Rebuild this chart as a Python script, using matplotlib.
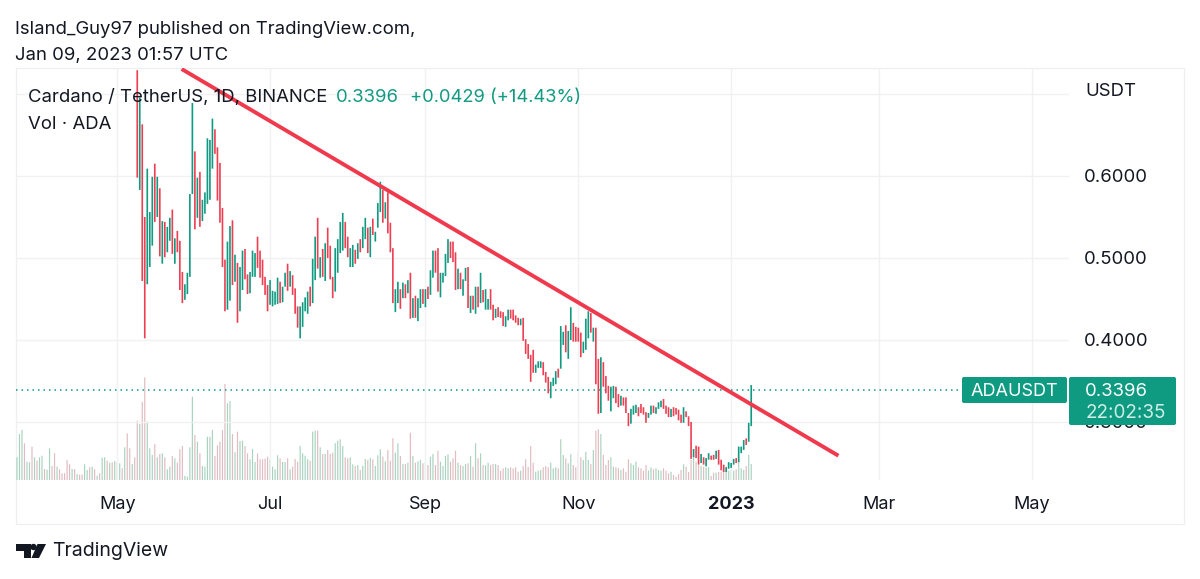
import numpy as np
import matplotlib
matplotlib.use("Agg")
import matplotlib.pyplot as plt
import matplotlib.dates as mdates
from matplotlib.patches import Rectangle, FancyBboxPatch, Polygon, Circle

plt.rcParams['font.family'] = ['Inter', 'DejaVu Sans']

W, H = 1200, 579

first_date = np.datetime64('2022-05-09')
volume_start = np.datetime64('2022-03-22')

highs = [
 .729,.696,.663,.550,.609,.556,.599,.615,.599,.585,
 .545,.544,.538,.549,.559,.524,.533,.521,.483,.468,
 .482,.578,.689,.630,.598,.605,.571,.580,.646,.644,
 .670,.657,.635,.616,.561,.498,.520,.539,.546,.504,
 .494,.489,
 .509,.511,.480,.483,.509,.506,.526,.509,
 .498,.477,.467,.473,.460,.459,.476,.471,.465,.482,
 .493,.484,.479,.463,.441,.441,.446,.452,.459,.465,
 .499,.526,.549,.501,.511,.518,.537,.515,.477,.512,
 .523,.544,.555,.544,.526,.512,.516,.510,.518,.523,
 .538,.549,.537,.538,.548,.532,.567,.593,.583,.568,
 .580,.543,.512,.462,.471,
 .462,.470,.468,.473,.482,
 .451,.454,.451,.462,.462,.462,.465,.485,.509,.509,
 .512,.482,.482,.505,.523,.520,.520,.507,.487,.482,
 .474,.488,.489,.454,.454,.465,.465,.482,.461,.462,
 .450,.462,.443,.438,.440,.435,.434,.429,.437,.437,
 .437,.430,.427,.426,.427,.401,.395,.382,.388,.370,
 .374,.374,.373,.361,.355,.349,.354,.362,.365,.417,
 .410,.418,.411,.440,.421,.416,.415,.409,.398,.426,
 .435,.433,.415,.415,.377,.379,.373,.356,.344,.343,
 .344,.343,.334,.332,.330,.330,.311,.316,.320,.321,
 .318,.322,.318,.312,.311,.320,.320,.318,.324,.326,
 .328,.320,.318,.316,.318,.317,.315,.309,.318,.313,
 .307,.300,.267,.271,.270,.261,.257,.256,.262,.259,
 .260,.265,.266,.254,.248,.245,.251,.250,.255,.256,
 .270,.270,.278,.280,.299,.345,
]
lows = [
 .598,.583,.472,.402,.468,.489,.515,.544,.550,.502,
 .493,.501,.507,.521,.505,.493,.507,.461,.445,.449,
 .456,.477,.578,.535,.549,.538,.545,.554,.566,.571,
 .609,.627,.570,.543,.489,.435,.437,.448,.467,.471,
 .421,.435,
 .461,.474,.456,.457,.477,.477,.488,.476,
 .467,.455,.435,.443,.441,.443,.444,.445,.446,.465,
 .460,.465,.455,.432,.415,.402,.416,.435,.432,.441,
 .445,.473,.487,.476,.477,.472,.500,.474,.451,.459,
 .482,.506,.509,.512,.501,.489,.489,.493,.499,.507,
 .512,.523,.506,.501,.528,.520,.537,.556,.543,.548,
 .530,.507,.445,.434,.445,
 .438,.451,.451,.457,.426,
 .427,.427,.423,.439,.444,.440,.450,.455,.476,.482,
 .459,.452,.470,.478,.494,.500,.495,.461,.462,.462,
 .454,.472,.439,.433,.437,.432,.440,.445,.446,.437,
 .437,.437,.424,.427,.428,.427,.417,.416,.424,.426,
 .424,.421,.418,.418,.399,.383,.377,.349,.360,.360,
 .366,.366,.357,.348,.335,.329,.344,.346,.354,.365,
 .394,.385,.377,.400,.398,.398,.398,.379,.384,.388,
 .402,.409,.398,.346,.310,.311,.343,.335,.326,.313,
 .329,.323,.318,.320,.320,.311,.295,.298,.309,.311,
 .307,.311,.309,.299,.305,.309,.311,.310,.316,.318,
 .316,.310,.306,.306,.307,.309,.302,.299,.299,.306,
 .295,.255,.257,.256,.248,.250,.248,.246,.254,.254,
 .254,.255,.248,.241,.239,.239,.243,.244,.248,.250,
 .251,.262,.266,.272,.276,.295,
]
candle_dirs = (
 "RGRRGGGRGR" "GRGGRGRRRG" "GGGRGRGGGG" "GRRRRRGGRG" "RG"
 "GRRGGGRR" "RRRGGGGRGG" "RGRRRGGGGR" "GGRGRGRRRG"
 "GGGRRGGRGR" "GGRGRGGGRG" "RRRGG"
 "RGRGR" "GRGGRGRGGR" "RGGGGRRRGR" "GGRGRGRGRG"
 "GRRGRRRGGR" "RRRGRRRRRG" "GGRRRGGGRG" "GRGGRRRRGG"
 "GRGRRGRRRG" "GRRGRRRGGG" "RRRRGGRGGG" "RRRGRRRRGR"
 "RRGRRGRGGR" "RGRRRGGGGR" "GGGRGG"
)
# volume bars that lie before the first visible candle (price above the pane)
pre_volume = [
 22.7,46,50,36.7,18.3,17.7,33.3,22.7,19.3,22.7,24.3,11,10.3,31.7,14,26.7,13.3,10.7,6.7,6.7,
 20,15.7,11,11,6,5.3,5.3,15.7,10,12.7,13.3,10.7,4.3,6.7,22.3,22.7,19.3,17.3,17.7,19,
 18,16.7,11.7,32.7,46.7,31.7,16,22.7,
]
pre_dirs = "GGGRGGRGRGGRGGRRGRRRRRGRGRRGGRGRGRGGRGRGRGRGRRGR"[:48]
volume = [
 59.3,56,78.3,102.7,58.3,31.7,25,36,22.7,26,26.7,22.7,10.7,13.3,24,21.7,17.3,30.7,34,4,
 3.3,32.7,83.3,45,38.3,26.7,14,13.3,43.3,43.3,50,24,34.7,38.3,50,96,76.7,79,46,27.7,
 48.3,39,39.3,34,26.7,20.7,31,18,26.7,20.7,20.7,21.3,23.3,20.7,13.3,10.7,24.7,21.7,18,18,
 21.7,10.7,13.3,21,18.3,34,26.7,24.3,20.7,19.3,48.3,49.3,49.3,32.7,26,26,30,26,27.3,36.7,
 39.3,40.7,34,22.7,21.7,22.7,15.7,14,15,10,14.3,21,20,22,20.7,14,24.7,30.7,23.3,18.7,
 30,19.3,41.7,27.3,36.7,
 24,16,16,17.3,47.3,24,17.3,18.7,20,16.7,18,15,23.3,26,15,29.3,18.3,14,24,25.7,
 18.3,21.7,29.3,17.3,15,14,16,16.7,24,13.3,36.7,21.7,26.7,15,14.7,17.3,15,16,16,15,
 9.3,11.7,12.7,11.7,12.7,11.7,12.7,8.3,9.3,14,20.7,13.3,34,17.3,8.3,9.3,10,12.7,14,12.7,
 17.3,11.7,12.7,11.7,40.7,25,21.7,16.7,25.7,15,12.7,28.3,22.7,20,28.3,20,16,30,49.3,50.7,
 46,25,15,20,22.7,13.3,12.7,11.7,10,11.7,8.3,20.7,16.7,15,18.3,12.7,11.7,9.3,15,9.3,
 12.7,10.7,11.7,10,9.3,11.7,9.3,6.7,8.3,5,3.3,6,10,15.7,13.3,8,20,22.7,18.3,15,
 14,13.3,12.7,12.7,4,7.3,7.3,8,8.3,15,8.3,9.3,10,9.3,10.7,20.7,11.7,10,14,25,16,
]
trend_dates = ['2022-05-26T17', '2023-02-12T19']
trend_prices = [0.7305, 0.2589]
last_price = 0.3396
price_ticks = [0.3, 0.4, 0.5, 0.6, 0.7]
price_labels = ['0.3000', '0.4000', '0.5000', '0.6000', '']
month_dates = ['2022-05-01', '2022-07-01', '2022-09-01', '2022-11-01', '2023-01-01', '2023-03-01', '2023-05-01']
month_labels = ['May', 'Jul', 'Sep', 'Nov', '2023', 'Mar', 'May']

GREEN, RED = '#119a82', '#ee3f52'
VG, VR = '#a9d3bf', '#e0bcc1'
INK = '#131722'
FS = 13.35

assert len(highs) == len(lows) == len(candle_dirs) == 246, (len(highs), len(lows), len(candle_dirs))
assert len(pre_volume) == len(pre_dirs) == 48, (len(pre_volume), len(pre_dirs))
assert len(volume) == 246, len(volume)

def fx(x): return x / W
def fy(y): return 1 - (y + 1.5) / H

fig = plt.figure(figsize=(12, 5.79), dpi=100, facecolor='white')
L, R, T, B = 16, 1069, 68, 480
rect = [L / W, 1 - B / H, (R - L) / W, (B - T) / H]
ax_v = fig.add_axes(rect, zorder=1)
ax = fig.add_axes(rect, zorder=2)
ax.patch.set_visible(False)

dates = mdates.date2num(first_date + np.arange(len(highs)))
vdates = mdates.date2num(volume_start + np.arange(len(pre_volume)))
px_per_day = 2.506
xmin = mdates.date2num(np.datetime64('2022-05-01')) + (L - 117.2) / px_per_day
xmax = mdates.date2num(np.datetime64('2022-05-01')) + (R - 117.2) / px_per_day

up = np.array([c == 'G' for c in candle_dirs])
candles = ax.vlines(dates, lows, highs, colors=[GREEN if u else RED for u in up], linewidth=1.2,
                    capstyle='butt', zorder=3)
candles.set_snap(False)

v1 = ax_v.vlines(vdates, 0, pre_volume, colors=[VG if c == 'G' else VR for c in pre_dirs], linewidth=0.85)
v2 = ax_v.vlines(dates, 0, volume, colors=[VG if u else VR for u in up], linewidth=0.85)
v1.set_snap(False)
v2.set_snap(False)
ax_v.set_xlim(xmin, xmax)
ax_v.set_ylim(0, B - T)
ax_v.axis('off')

ax.plot(mdates.date2num(np.array(trend_dates, dtype='datetime64[h]')), trend_prices,
        color='#ee3a4c', linewidth=2.8, solid_capstyle='butt', zorder=4)
ax.axhline(last_price, 0, (960 - L) / (R - L), color=GREEN, linewidth=1.1, linestyle=(0, (1, 2.6)), zorder=2)

ax.set_xlim(xmin, xmax)
ax.set_ylim((668 - B) / 820, (668 - T) / 820)
ax.set_xticks(mdates.date2num(np.array(month_dates, dtype='datetime64[D]')))
ax.set_xticklabels(month_labels, fontsize=13, color=INK)
ax.get_xticklabels()[4].set_fontweight('bold')
ax.yaxis.tick_right()
ax.set_yticks(price_ticks)
ax.set_yticklabels(price_labels, fontsize=FS, color=INK)
ax.tick_params(axis='x', length=0, pad=11.5)
ax.tick_params(axis='y', length=0, pad=11)
ax.grid(True, color='#f0f1f3', linewidth=1.0, zorder=0)
ax.set_axisbelow(True)
for s in ax.spines.values():
    s.set_visible(False)

# outer frame
fig.add_artist(Rectangle((16 / W, 1 - 524 / H), (1184 - 16) / W, (524 - 68) / H, transform=fig.transFigure,
                         fill=False, edgecolor='#eeeff1', linewidth=0.9, zorder=0.5))

# price labels
def box(x0, y0, x1, y1):
    fig.add_artist(FancyBboxPatch((x0, H - y1), x1 - x0, y1 - y0, boxstyle='round,pad=0,rounding_size=2',
                                  transform=None, facecolor='#0f9a82', edgecolor='none', zorder=5))
box(962, 377, 1067, 403)
box(1069, 377, 1176, 425)
fig.text(fx(1014.5), fy(390), 'ADAUSDT', fontsize=13, color='white', ha='center', va='center', zorder=6)
fig.text(fx(1085), fy(390), '0.3396', fontsize=FS, color='white', ha='left', va='center', zorder=6)
fig.text(fx(1086), fy(412), '22:02:35', fontsize=13.6, color='#cdeee6', ha='left', va='center', zorder=6)
fig.text(fx(1085), fy(90), 'USDT', fontsize=FS, color=INK, ha='left', va='center', zorder=6)

# header
fig.text(fx(15), fy(28), 'Island_Guy97 published on TradingView.com,', fontsize=13.35, color=INK, ha='left', va='center')
fig.text(fx(15), fy(54), 'Jan 09, 2023 01:57 UTC', fontsize=13.35, color=INK, ha='left', va='center')
fig.text(fx(28), fy(96), 'Cardano / TetherUS, 1D, BINANCE', fontsize=FS, color=INK, ha='left', va='center', zorder=6)
fig.text(fx(336), fy(96), '0.3396', fontsize=FS, color=GREEN, ha='left', va='center', zorder=6)
fig.text(fx(410), fy(96), '+0.0429 (+14.43%)', fontsize=13.2, color=GREEN, ha='left', va='center', zorder=6)
fig.text(fx(28), fy(123), 'Vol · ADA', fontsize=FS, color=INK, ha='left', va='center', zorder=6)

# logo
def poly(pts):
    fig.add_artist(Polygon([(x / W, 1 - y / H) for x, y in pts], closed=True, transform=fig.transFigure,
                           facecolor=INK, edgecolor='none', zorder=6))
poly([(16, 544), (31, 544), (31, 558), (24, 558), (24, 551), (16, 551)])
poly([(37.5, 544), (46, 544), (39, 558), (31.5, 558)])
fig.add_artist(Circle((33.5, H - 547), 3.2, transform=None, facecolor=INK, edgecolor='none', zorder=6))
fig.text(fx(52), fy(550), 'TradingView', fontsize=14, color=INK, ha='left', va='center')

fig.savefig('out.png', dpi=100, facecolor='white')
